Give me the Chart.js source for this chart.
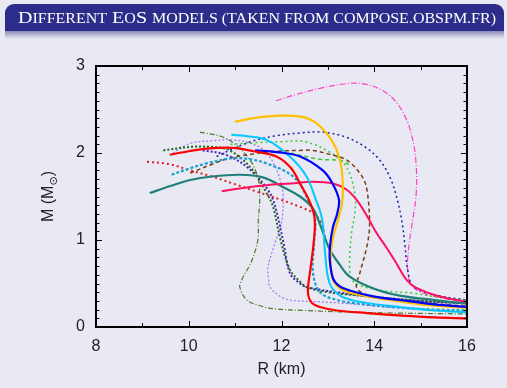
<!DOCTYPE html>
<html>
<head>
<meta charset="utf-8">
<script src="https://cdn.jsdelivr.net/npm/chart.js@4"></script>
<style>
  html, body { margin: 0; padding: 0; background: rgb(233,233,243); }
  body { width: 507px; height: 388px; position: relative; overflow: hidden; }
  #frametitle {
    position: absolute; left: 5px; top: 4px; width: 499px; height: 27px;
    background: rgb(44,44,138); border-radius: 9px 9px 0 0;
  }
  #frametitle span.txt {
    position: absolute; left: 13px; top: 0; line-height: 27px;
    color: #fff; font-family: "Liberation Serif", "DejaVu Serif", serif;
    font-size: 17px; white-space: nowrap; transform-origin: 0 50%;
  }
  #frametitle .sc { font-size: 0.8em; text-transform: uppercase; }
  #shade {
    position: absolute; left: 5px; top: 31px; width: 499px; height: 8px;
    background: linear-gradient(rgba(60,60,140,0.55), rgba(233,233,243,0));
  }
  #plot { position: absolute; left: 0; top: 0; }
</style>
</head>
<body>
<canvas id="plot" width="507" height="388"></canvas>
<div id="frametitle"><span class="txt" id="ttl">D<span class="sc">ifferent</span> E<span class="sc">o</span>S <span class="sc">models (taken from compose.obspm.fr)</span></span></div>
<div id="shade"></div>
<script>
// radius (km) / mass (Msun) pairs
const magentaR = [11.88, 12.3, 12.8, 13.3, 13.7, 14.1, 14.45, 14.7, 14.85, 14.91, 14.9, 14.82, 14.74, 14.72, 14.8, 15.1, 15.5, 16.0];
const magentaM = [2.60, 2.67, 2.74, 2.79, 2.80, 2.74, 2.60, 2.38, 2.10, 1.80, 1.50, 1.20, 0.90, 0.65, 0.48, 0.38, 0.33, 0.29];

const navyR = [10.6, 11.0, 11.4, 11.9, 12.4, 12.9, 13.4, 13.8, 14.1, 14.34, 14.5, 14.6, 14.66, 14.72, 14.85, 15.4, 16.0];
const navyM = [1.96, 2.06, 2.14, 2.20, 2.23, 2.24, 2.18, 2.07, 1.93, 1.72, 1.46, 1.20, 0.95, 0.66, 0.46, 0.36, 0.31];

const yellowR = [11.0, 11.5, 12.0, 12.6, 13.04, 13.26, 13.32, 13.3, 13.2, 13.1, 13.06, 13.08, 13.15, 13.3, 13.6, 14.1, 15.0, 16.0];
const yellowM = [2.36, 2.41, 2.43, 2.39, 2.18, 1.92, 1.65, 1.40, 1.20, 1.00, 0.80, 0.60, 0.50, 0.43, 0.38, 0.33, 0.26, 0.22];

const blueR = [11.43, 11.9, 12.4, 12.89, 13.1, 13.24, 13.2, 13.11, 13.05, 13.04, 13.11, 13.25, 13.47, 14.0, 14.55, 15.3, 16.0];
const blueM = [2.03, 2.01, 1.96, 1.80, 1.65, 1.46, 1.30, 1.15, 0.95, 0.78, 0.56, 0.47, 0.42, 0.35, 0.31, 0.26, 0.23];

const cyanR = [10.92, 11.3, 11.68, 12.18, 12.54, 12.75, 12.85, 12.9, 12.94, 13.04, 13.3, 13.8, 14.55, 15.3, 16.0];
const cyanM = [2.21, 2.19, 2.15, 1.96, 1.73, 1.45, 1.30, 1.15, 0.85, 0.50, 0.35, 0.28, 0.23, 0.19, 0.17];

const redR = [9.59, 10.0, 10.39, 10.95, 11.4, 11.89, 12.2, 12.4, 12.6, 12.7, 12.72, 12.68, 12.62, 12.57, 12.65, 12.83, 13.2, 13.84, 14.6, 15.3, 16.0];
const redM = [1.98, 2.02, 2.05, 2.06, 2.02, 1.96, 1.83, 1.65, 1.45, 1.30, 1.15, 0.90, 0.65, 0.40, 0.28, 0.23, 0.19, 0.16, 0.13, 0.11, 0.10];

const roseR = [10.71, 11.2, 11.68, 12.2, 12.68, 13.11, 13.4, 13.62, 13.85, 14.05, 14.28, 14.48, 14.7, 14.91, 15.41, 16.0];
const roseM = [1.56, 1.60, 1.63, 1.65, 1.67, 1.65, 1.58, 1.46, 1.27, 1.08, 0.90, 0.73, 0.54, 0.45, 0.35, 0.29];

const greenR = [10.9, 11.5, 12.0, 12.5, 13.04, 13.4, 13.58, 13.58, 13.51, 13.47, 13.55, 13.8, 14.3, 14.83, 15.4, 16.0];
const greenM = [2.10, 2.12, 2.13, 2.13, 2.01, 1.84, 1.54, 1.30, 1.08, 0.66, 0.52, 0.46, 0.41, 0.39, 0.34, 0.31];

const green2R = [12.2, 12.8, 13.3, 13.5];
const green2M = [2.00, 1.93, 1.91, 1.85];

const brownR = [10.03, 10.5, 10.88, 11.4, 11.9, 12.4, 12.68, 13.0, 13.4, 13.7, 13.83, 13.9, 13.85, 13.69, 13.62, 13.9, 14.5, 15.2, 16.0];
const brownM = [1.77, 1.87, 1.94, 1.99, 2.02, 2.03, 2.03, 1.99, 1.92, 1.76, 1.61, 1.20, 0.95, 0.62, 0.45, 0.36, 0.31, 0.27, 0.24];

const oliveR = [10.24, 10.7, 11.0, 11.32, 11.5, 11.53, 11.5, 11.49, 11.35, 11.15, 11.1, 11.25, 11.5, 11.82, 12.5, 13.5, 14.5, 16.0];
const oliveM = [2.24, 2.19, 2.10, 1.92, 1.70, 1.46, 1.22, 1.00, 0.75, 0.55, 0.46, 0.31, 0.25, 0.21, 0.19, 0.17, 0.16, 0.15];

const lilacR = [9.66, 10.03, 10.5, 10.95, 11.4, 11.68, 11.9, 12.03, 12.0, 11.85, 11.71, 11.72, 11.75, 11.95, 12.18, 12.8, 13.4, 14.5, 16.0];
const lilacM = [2.00, 2.11, 2.14, 2.15, 2.10, 2.00, 1.80, 1.54, 1.20, 0.95, 0.69, 0.55, 0.46, 0.36, 0.31, 0.29, 0.27, 0.22, 0.17];

const darkGreenR = [9.45, 10.03, 10.5, 10.88, 11.32, 11.68, 11.82, 11.98, 12.18, 12.4, 12.54, 13.0, 14.12, 15.0, 16.0];
const darkGreenM = [2.03, 2.07, 2.07, 2.03, 1.84, 1.54, 1.38, 1.00, 0.66, 0.52, 0.46, 0.40, 0.34, 0.30, 0.27];

const indigoR = [10.3, 10.8, 11.3, 11.75, 11.9, 12.05, 12.18, 12.35, 12.54, 13.2, 14.12, 15.0, 16.0];
const indigoM = [2.03, 1.98, 1.82, 1.54, 1.31, 0.95, 0.62, 0.52, 0.46, 0.40, 0.34, 0.30, 0.27];

const redDotR = [9.1, 9.6, 10.03, 10.5, 10.95, 11.5, 12.0, 12.4, 12.68, 12.85, 12.95];
const redDotM = [1.90, 1.87, 1.80, 1.73, 1.65, 1.55, 1.46, 1.38, 1.31, 1.20, 1.00];

const skyDotR = [9.63, 10.0, 10.38, 10.95, 11.3, 11.68, 12.25, 12.54, 12.72, 12.70, 12.68, 12.83, 13.2, 13.8, 14.6, 15.3, 16.0];
const skyDotM = [1.75, 1.82, 1.88, 1.94, 1.93, 1.88, 1.73, 1.50, 1.25, 0.95, 0.62, 0.40, 0.31, 0.26, 0.22, 0.20, 0.19];

const tealR = [9.16, 9.6, 10.03, 10.5, 11.1, 11.6, 12.03, 12.4, 12.68, 12.85, 13.04, 13.25, 13.47, 14.0, 14.55, 15.3, 16.0];
const tealM = [1.54, 1.62, 1.69, 1.73, 1.75, 1.72, 1.61, 1.50, 1.36, 1.15, 0.89, 0.72, 0.58, 0.44, 0.36, 0.31, 0.27];

const xTicks = [8, 10, 12, 14, 16];
const yTicks = [0, 1, 2, 3];

const curves = [
  { r: redR, m: redM, color: '#ff0000', width: 2.2, dash: [] },
  { r: blueR, m: blueM, color: '#0000ff', width: 2.2, dash: [] },
  { r: yellowR, m: yellowM, color: '#ffc000', width: 2.2, dash: [] },
  { r: cyanR, m: cyanM, color: '#00c8ff', width: 2, dash: [] },
  { r: roseR, m: roseM, color: '#ff1060', width: 2, dash: [] },
  { r: tealR, m: tealM, color: '#1f7f7a', width: 2.2, dash: [] },
  { r: skyDotR, m: skyDotM, color: '#1a9fd0', width: 2.2, dash: [3, 2] },
  { r: redDotR, m: redDotM, color: '#dd2020', width: 2, dash: [2, 3] },
  { r: brownR, m: brownM, color: '#7a3c10', width: 1.5, dash: [4, 3] },
  { r: greenR, m: greenM, color: '#33cc33', width: 1.5, dash: [2, 3] },
  { r: green2R, m: green2M, color: '#33cc33', width: 1.5, dash: [4, 3] },
  { r: navyR, m: navyM, color: '#2020a8', width: 1.5, dash: [2, 3] },
  { r: darkGreenR, m: darkGreenM, color: '#1a6a1a', width: 2, dash: [2, 2] },
  { r: indigoR, m: indigoM, color: '#5020c0', width: 2, dash: [2, 2] },
  { r: lilacR, m: lilacM, color: '#a070f0', width: 1.2, dash: [2, 2] },
  { r: oliveR, m: oliveM, color: '#4a7a2a', width: 1.2, dash: [5, 2, 1, 2] },
  { r: magentaR, m: magentaM, color: '#ff40d0', width: 1.2, dash: [6, 2, 1, 2] }
];

const datasets = curves.map(c => ({
  data: c.r.map((r, i) => ({ x: r, y: c.m[i] })),
  borderColor: c.color,
  borderWidth: c.width,
  borderDash: c.dash,
  showLine: true,
  pointRadius: 0,
  tension: 0.35,
  fill: false
}));

// frame, inward ticks on all four sides, and axis titles
const frameTicks = {
  id: 'frameTicks',
  afterDatasetsDraw(chart) {
    const { ctx, chartArea: a, scales: { x, y } } = chart;
    ctx.save();
    ctx.strokeStyle = '#000';
    ctx.lineWidth = 1;
    ctx.beginPath();
    for (let r = 8; r <= 16; r++) {
      const px = Math.round(x.getPixelForValue(r)) + 0.5;
      const len = r % 2 === 0 ? 6 : 4;
      ctx.moveTo(px, a.bottom); ctx.lineTo(px, a.bottom - len);
      ctx.moveTo(px, a.top); ctx.lineTo(px, a.top + len);
    }
    for (let i = 0; i <= 30; i++) {
      const py = Math.round(y.getPixelForValue(i / 10)) + 0.5;
      const len = i % 10 === 0 ? 6 : 3.5;
      ctx.moveTo(a.left, py); ctx.lineTo(a.left + len, py);
      ctx.moveTo(a.right, py); ctx.lineTo(a.right - len, py);
    }
    ctx.stroke();
    ctx.lineWidth = 2;
    ctx.strokeRect(a.left, a.top, a.width, a.height);

    ctx.fillStyle = '#222';
    ctx.font = '16px "Liberation Sans", Arial, sans-serif';
    ctx.textAlign = 'center';
    ctx.textBaseline = 'middle';
    ctx.fillText('R (km)', (a.left + a.right) / 2, 370);

    ctx.translate(49, (a.top + a.bottom) / 2);
    ctx.rotate(-Math.PI / 2);
    ctx.textAlign = 'left';
    const p1 = 'M (M';
    const sub = '\u2299';
    const p2 = ')';
    ctx.font = '16px "Liberation Sans", Arial, sans-serif';
    const w1 = ctx.measureText(p1).width;
    const w3 = ctx.measureText(p2).width;
    ctx.font = '11px "DejaVu Sans", sans-serif';
    const w2 = ctx.measureText(sub).width;
    let sx = -(w1 + w2 + w3) / 2;
    ctx.font = '16px "Liberation Sans", Arial, sans-serif';
    ctx.fillText(p1, sx, 0);
    ctx.font = '11px "DejaVu Sans", sans-serif';
    ctx.fillText(sub, sx + w1, 5);
    ctx.font = '16px "Liberation Sans", Arial, sans-serif';
    ctx.fillText(p2, sx + w1 + w2, 0);
    ctx.restore();
  }
};

new Chart(document.getElementById('plot'), {
  type: 'scatter',
  data: { datasets },
  options: {
    responsive: false,
    devicePixelRatio: 1,
    animation: false,
    layout: { padding: { left: 56, right: 40, top: 66, bottom: 31 } },
    plugins: { legend: { display: false }, tooltip: { enabled: false } },
    scales: {
      x: {
        type: 'linear', min: 8, max: 16,
        afterFit: s => { s.height = 30; },
        afterBuildTicks: s => { s.ticks = xTicks.map(v => ({ value: v })); },
        grid: { display: false, drawTicks: false },
        border: { display: false },
        ticks: { padding: 10, color: '#222', font: { size: 16, family: '"Liberation Sans", Arial, sans-serif' } }
      },
      y: {
        type: 'linear', min: 0, max: 3,
        afterFit: s => { s.width = 40; },
        afterBuildTicks: s => { s.ticks = yTicks.map(v => ({ value: v })); },
        grid: { display: false, drawTicks: false },
        border: { display: false },
        ticks: { padding: 11, color: '#222', font: { size: 16, family: '"Liberation Sans", Arial, sans-serif' } }
      }
    }
  },
  plugins: [frameTicks]
});

// stretch the frame title to the width it has in the slide
const ttl = document.getElementById('ttl');
ttl.style.transform = 'scaleX(' + (478 / ttl.getBoundingClientRect().width) + ')';
</script>
</body>
</html>
